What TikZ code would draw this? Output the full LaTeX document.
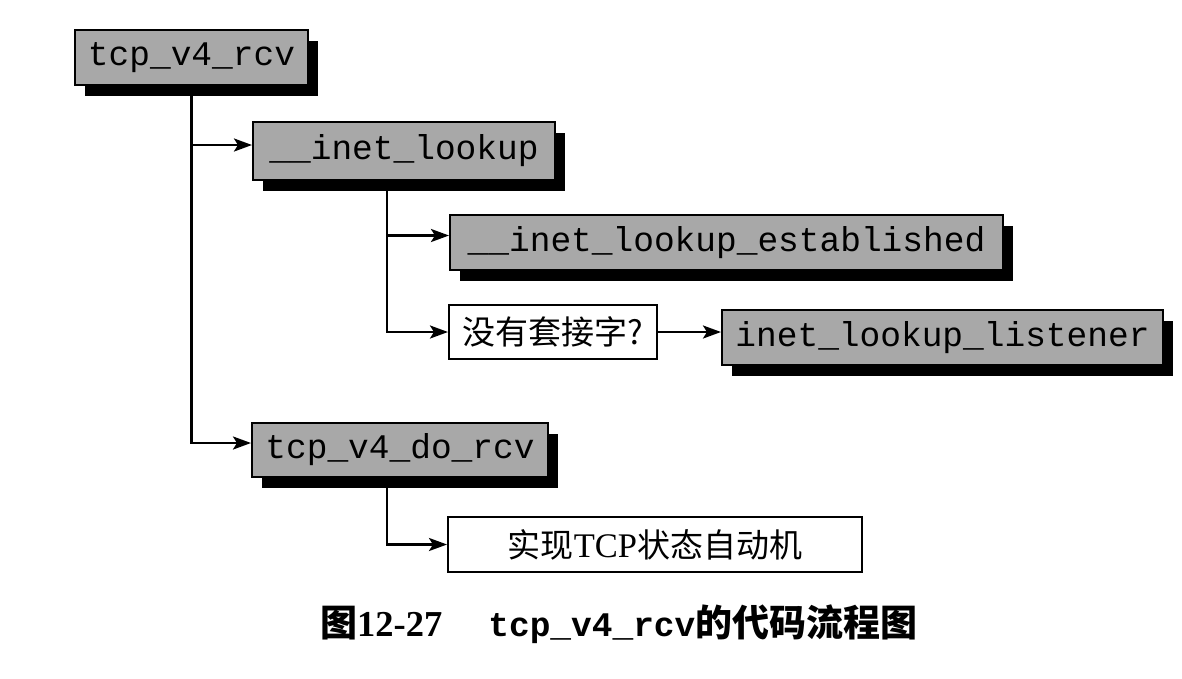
\documentclass[tikz,border=0pt]{standalone}
\usepackage{fontspec}
\usetikzlibrary{arrows.meta,shadows}
\newfontfamily\cmono{Liberation Mono}
\newfontfamily\ccjk{Noto Sans CJK SC}
\newfontfamily\ctnr{Liberation Serif}
\definecolor{boxgray}{RGB}{168,168,168}
\begin{document}
\begin{tikzpicture}[x=1pt,y=-1pt,
  fnbox/.style={draw=black, line width=2pt, fill=boxgray, inner sep=0pt,
    font=\cmono\fontsize{34.5}{40}\selectfont,
    drop shadow={shadow xshift=10pt, shadow yshift=-11pt, fill=black, opacity=1}},
  notebox/.style={draw=black, line width=2pt, fill=white, inner sep=0pt,
    font=\ccjk\fontsize{33}{40}\selectfont},
  arr/.style={line width=2.6pt, -{Stealth[length=18pt,width=13pt,inset=4pt]}}]
\useasboundingbox (0,0) rectangle (1182,678);
\fill[white] (0,0) rectangle (1182,678);

\node[fnbox, minimum width=233pt, minimum height=55pt] (n1) at (191.5,57.5) {tcp\_v4\_rcv};
\node[fnbox, minimum width=302pt, minimum height=58pt] (n2) at (404,151) {\_\_inet\_lookup};
\node[fnbox, minimum width=553pt, minimum height=55pt] (n3) at (726.5,242.5) {\_\_inet\_lookup\_established};
\node[notebox, minimum width=208pt, minimum height=54pt] (q) at (553,332) {没有套接字?};
\node[fnbox, minimum width=441pt, minimum height=55pt] (n4) at (942.5,337.5) {inet\_lookup\_listener};
\node[fnbox, minimum width=296pt, minimum height=54pt] (n5) at (400,450) {tcp\_v4\_do\_rcv};
\node[notebox, minimum width=414pt, minimum height=55pt] (n6) at (655,544.5) {实现{\ctnr\fontsize{34.5}{40}\selectfont TCP}状态自动机};

\coordinate (a2) at ([yshift=6pt]n2.west);
\draw[arr] (n1.south) |- ([yshift=7pt]n5.west);
\draw[arr] (n1.south |- a2) -- (a2);
\draw[arr] ([xshift=-17pt]n2.south) |- ([yshift=7pt]n3.west);
\draw[arr] ([xshift=-17pt]n2.south) |- (q.west);
\draw[arr] (q.east) -- (q.east -| n4.west);
\draw[arr] ([xshift=-13pt]n5.south) |- (n6.west);

\node[anchor=base west, inner sep=0pt] (cap) at (320,636)
  {{\ccjk\bfseries\fontsize{37}{40}\selectfont 图}{\ctnr\bfseries\fontsize{36.5}{40}\selectfont 12-27}\hspace{46pt}{\cmono\bfseries\fontsize{34.5}{40}\selectfont tcp\_v4\_rcv}{\ccjk\bfseries\fontsize{37}{40}\selectfont 的代码流程图}};
\end{tikzpicture}
\end{document}
